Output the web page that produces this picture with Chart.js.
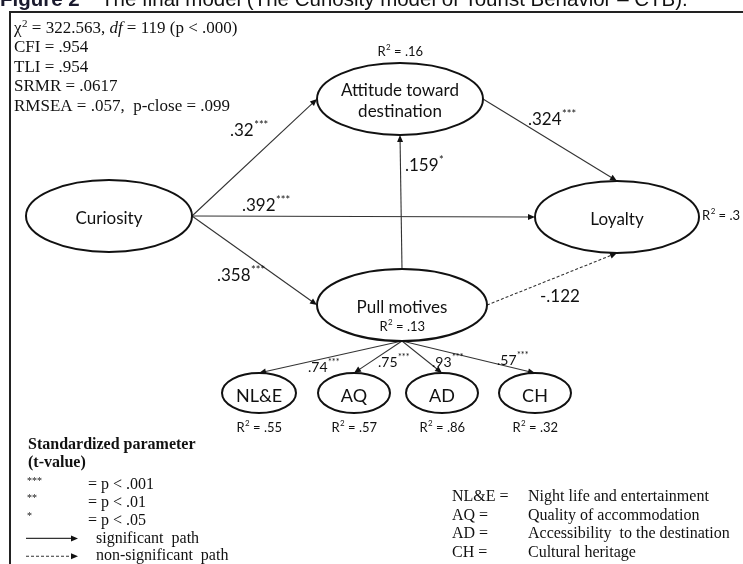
<!DOCTYPE html>
<html>
<head>
<meta charset="utf-8">
<script src="https://cdn.jsdelivr.net/npm/chart.js@4.4.0/dist/chart.umd.min.js"></script>
<style>
  html, body { margin: 0; padding: 0; background: #fff; }
  #wrap { position: relative; width: 743px; height: 564px; }
</style>
</head>
<body>
<div id="wrap"><canvas id="pathChart"></canvas></div>
<script>
// latent variables and their explained variance
const nodeNames = ['Curiosity', 'Attitude toward\ndestination', 'Loyalty', 'Pull motives', 'NL&E', 'AQ', 'AD', 'CH'];
const rSquared = ['', '.16', '.3', '.13', '.55', '.57', '.86', '.32'];

// paths (index into nodeNames) with standardized estimates
const pathFrom  = [0, 0, 0, 3, 1, 3, 3, 3, 3, 3];
const pathTo    = [1, 2, 3, 1, 2, 2, 4, 5, 6, 7];
const pathCoef  = ['.32', '.392', '.358', '.159', '.324', '-.122', '.74', '.75', '.93', '.57'];
const pathStars = ['***', '***', '***', '*', '***', '', '***', '***', '***', '***'];
const pathSig   = [true, true, true, true, true, false, true, true, true, true];

// model fit
const fitStats = ['CFI = .954', 'TLI = .954', 'SRMR = .0617', 'RMSEA = .057,  p-close = .099'];

// legends
const sigCodes  = ['***', '**', '*'];
const sigLabels = ['= p < .001', '= p < .01', '= p < .05'];
const abbrevs = ['NL&E =', 'AQ =', 'AD =', 'CH ='];
const abbrevLabels = ['Night life and entertainment', 'Quality of accommodation', 'Accessibility  to the destination', 'Cultural heritage'];

// ---- layout (diagram units = pixels of the figure) ----
const nodeX = [109, 400, 617, 402, 259, 354, 442, 535];
const nodeY = [216, 99, 217, 305, 393, 393, 393, 393];
const nodeRx = [83, 83, 82, 85, 37, 36, 36, 36];
const nodeRy = [36, 36, 36, 36, 20, 20, 20, 20];
const fromPort = ['r', 'r', 'r', 't', 'r', 'r', 'b', 'b', 'b', 'b'];
const toPort   = ['l', 'l', 'l', 'b', 't', 'b', 't', 't', 't', 't'];
const labelX = [230, 242, 217, 405, 528, 540, 308, 378, 432, 497];
const labelY = [131, 206, 276, 166, 120, 297, 367, 362, 362, 360];

const SANS = 'Lato, "Open Sans", sans-serif';
const SERIF = '"Liberation Serif", "DejaVu Serif", serif';

function port(i, side) {
  if (side === 'l') return [nodeX[i] - nodeRx[i], nodeY[i]];
  if (side === 'r') return [nodeX[i] + nodeRx[i], nodeY[i]];
  if (side === 't') return [nodeX[i], nodeY[i] - nodeRy[i]];
  return [nodeX[i], nodeY[i] + nodeRy[i]];
}

function arrow(ctx, x1, y1, x2, y2, dashed) {
  const a = Math.atan2(y2 - y1, x2 - x1);
  const L = 7, hw = 3;
  ctx.save();
  ctx.strokeStyle = '#333';
  ctx.fillStyle = '#111';
  ctx.lineWidth = 1.1;
  if (dashed) ctx.setLineDash([3, 2]);
  ctx.beginPath();
  ctx.moveTo(x1, y1);
  ctx.lineTo(x2 - Math.cos(a) * L * 0.8, y2 - Math.sin(a) * L * 0.8);
  ctx.stroke();
  ctx.setLineDash([]);
  ctx.beginPath();
  ctx.moveTo(x2, y2);
  ctx.lineTo(x2 - L * Math.cos(a) + hw * Math.sin(a), y2 - L * Math.sin(a) - hw * Math.cos(a));
  ctx.lineTo(x2 - L * Math.cos(a) - hw * Math.sin(a), y2 - L * Math.sin(a) + hw * Math.cos(a));
  ctx.closePath();
  ctx.fill();
  ctx.restore();
}

// base text with a raised smaller suffix; align 'left' or 'center'
function supText(ctx, base, sup, x, y, size, family, align, tail) {
  ctx.font = size + 'px ' + family;
  const wb = ctx.measureText(base).width;
  const supSize = Math.round(size * 0.62);
  ctx.font = supSize + 'px ' + family;
  const ws = ctx.measureText(sup).width;
  ctx.font = size + 'px ' + family;
  const wt = tail ? ctx.measureText(tail).width : 0;
  let x0 = align === 'center' ? x - (wb + ws + wt) / 2 : x;
  ctx.textAlign = 'left';
  ctx.textBaseline = 'middle';
  ctx.fillText(base, x0, y);
  ctx.font = supSize + 'px ' + family;
  ctx.fillText(sup, x0 + wb + 0.5, y - size * 0.35);
  if (tail) {
    ctx.font = size + 'px ' + family;
    ctx.fillText(tail, x0 + wb + ws + 0.5, y);
  }
}

const pathDiagram = {
  id: 'pathDiagram',
  afterDatasetsDraw(chart) {
    const { ctx, scales: { x, y } } = chart;
    const px = v => x.getPixelForValue(v);
    const py = v => y.getPixelForValue(v);
    ctx.save();
    ctx.fillStyle = '#111';

    // title (cut at the top in the source) and frame
    ctx.textBaseline = 'alphabetic';
    ctx.textAlign = 'left';
    ctx.font = 'bold 20.5px "Liberation Sans", Arial, sans-serif';
    ctx.fillStyle = '#1a1a2e';
    ctx.fillText('Figure 2', 0, 6);
    ctx.fillStyle = '#111';
    ctx.font = '20.5px "Liberation Sans", Arial, sans-serif';
    ctx.fillText('The final model (The Curiosity model of Tourist Behavior – CTB).', 101, 6);
    ctx.strokeStyle = '#222';
    ctx.lineWidth = 2;
    ctx.beginPath();
    ctx.moveTo(743, 12); ctx.lineTo(10, 12); ctx.lineTo(10, 564);
    ctx.stroke();

    // paths
    pathFrom.forEach((f, k) => {
      const [x1, y1] = port(f, fromPort[k]);
      const [x2, y2] = port(pathTo[k], toPort[k]);
      arrow(ctx, px(x1), py(y1), px(x2), py(y2), !pathSig[k]);
    });

    // ellipses
    nodeNames.forEach((name, i) => {
      ctx.beginPath();
      ctx.ellipse(px(nodeX[i]), py(nodeY[i]), nodeRx[i], nodeRy[i], 0, 0, Math.PI * 2);
      ctx.fillStyle = '#fff';
      ctx.fill();
      ctx.strokeStyle = '#111';
      ctx.lineWidth = 2;
      ctx.stroke();
      ctx.fillStyle = '#111';
      ctx.textAlign = 'center';
      ctx.textBaseline = 'middle';
      const small = i >= 4;
      ctx.font = (small ? 18 : 17) + 'px ' + SANS;
      const lines = name.split('\n');
      if (lines.length > 1) {
        ctx.fillText(lines[0], px(nodeX[i]), py(nodeY[i]) - 8);
        ctx.fillText(lines[1], px(nodeX[i]), py(nodeY[i]) + 13);
      } else {
        ctx.fillText(name, px(nodeX[i]), py(nodeY[i]) + 3);
      }
    });

    // R squared
    rSquared.forEach((r, i) => {
      if (!r) return;
      let lx = px(nodeX[i]), ly, align = 'center';
      if (i === 1) ly = py(nodeY[i]) - 47;
      else if (i === 2) { lx = px(nodeX[i]) + nodeRx[i] + 3; ly = py(nodeY[i]) - 1; align = 'left'; }
      else if (i === 3) ly = py(nodeY[i]) + 22;
      else ly = py(nodeY[i]) + 35;
      supText(ctx, 'R', '2', lx, ly, 13, SANS, align, ' = ' + r);
    });

    // path coefficients
    pathCoef.forEach((c, k) => {
      const small = k >= 6;
      supText(ctx, c, pathStars[k], px(labelX[k]), py(labelY[k]), small ? 14 : 17, SANS, 'left');
    });

    // fit statistics
    ctx.textAlign = 'left';
    ctx.textBaseline = 'middle';
    ctx.font = '17px ' + SERIF;
    ctx.fillText('χ', 14, 29);
    let w = ctx.measureText('χ').width;
    ctx.font = '11px ' + SERIF;
    ctx.fillText('2', 14 + w + 0.5, 24);
    ctx.font = '17px ' + SERIF;
    let xx = 14 + w + 6;
    ctx.fillText(' = 322.563, ', xx, 29);
    xx += ctx.measureText(' = 322.563, ').width;
    ctx.font = 'italic 17px ' + SERIF;
    ctx.fillText('df', xx, 29);
    xx += ctx.measureText('df').width;
    ctx.font = '17px ' + SERIF;
    ctx.fillText(' = 119 (p < .000)', xx, 29);
    fitStats.forEach((s, k) => ctx.fillText(s, 14, 48 + k * 19.5));

    // significance legend
    ctx.font = 'bold 16px ' + SERIF;
    ctx.fillText('Standardized parameter', 28, 445);
    ctx.fillText('(t-value)', 28, 463);
    const ly0 = 485, dy = 17.8;
    sigCodes.forEach((s, k) => {
      ctx.font = '10px ' + SERIF;
      ctx.fillText(s, 27, ly0 + k * dy - 4);
      ctx.font = '16px ' + SERIF;
      ctx.fillText(sigLabels[k], 88, ly0 + k * dy);
    });
    arrow(ctx, 26, ly0 + 3 * dy, 78, ly0 + 3 * dy, false);
    arrow(ctx, 26, ly0 + 4 * dy, 78, ly0 + 4 * dy, true);
    ctx.fillStyle = '#111';
    ctx.font = '16px ' + SERIF;
    ctx.fillText('significant  path', 96, ly0 + 3 * dy);
    ctx.fillText('non-significant  path', 96, ly0 + 4 * dy);

    // abbreviation legend
    abbrevs.forEach((a, k) => {
      ctx.fillText(a, 452, 497 + k * 18.5);
      ctx.fillText(abbrevLabels[k], 528, 497 + k * 18.5);
    });
    ctx.restore();
  }
};

new Chart(document.getElementById('pathChart'), {
  type: 'scatter',
  data: {
    datasets: [{
      data: nodeNames.map((n, i) => ({ x: nodeX[i], y: nodeY[i] })),
      pointRadius: 0
    }]
  },
  options: {
    responsive: true,
    maintainAspectRatio: false,
    animation: false,
    layout: { padding: 0 },
    plugins: { legend: { display: false }, tooltip: { enabled: false } },
    scales: {
      x: { type: 'linear', min: 0, max: 743, display: false },
      y: { type: 'linear', min: 0, max: 564, reverse: true, display: false }
    }
  },
  plugins: [pathDiagram]
});
</script>
</body>
</html>
